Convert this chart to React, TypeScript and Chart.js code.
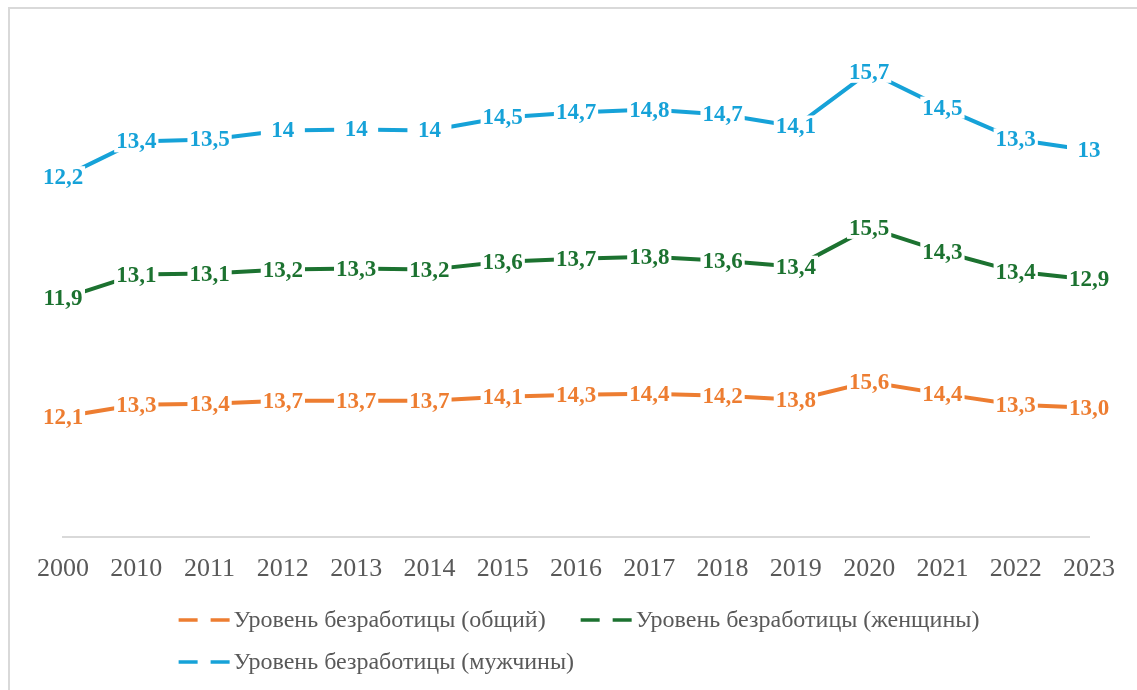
import React, { useEffect, useRef } from "react";
import { Chart, registerables } from "chart.js";

Chart.register(...registerables);

const categories = ["2000", "2010", "2011", "2012", "2013", "2014", "2015", "2016", "2017", "2018", "2019", "2020", "2021", "2022", "2023"];
const totalValues = [12.1, 13.3, 13.4, 13.7, 13.7, 13.7, 14.1, 14.3, 14.4, 14.2, 13.8, 15.6, 14.4, 13.3, 13.0];
const womenValues = [11.9, 13.1, 13.1, 13.2, 13.3, 13.2, 13.6, 13.7, 13.8, 13.6, 13.4, 15.5, 14.3, 13.4, 12.9];
const menValues = [12.2, 13.4, 13.5, 14, 14, 14, 14.5, 14.7, 14.8, 14.7, 14.1, 15.7, 14.5, 13.3, 13];
const seriesNames = ["Уровень безработицы (общий)", "Уровень безработицы (женщины)", "Уровень безработицы (мужчины)"];
const seriesColors = ["#ED7D31", "#1C7230", "#16A2D8"];
const seriesFixedDecimals = [true, false, false];
const yMin = 0;
const yMax = 50;

const SERIF = '"Liberation Serif", "Times New Roman", serif';
const CANVAS_W = 1127;
const CANVAS_H = 681;

function formatValue(v: number, fixed: boolean): string {
  const s = fixed ? v.toFixed(1) : String(v);
  return s.replace(".", ",");
}

const labelPlugin = {
  id: "pointValueLabels",
  afterDatasetsDraw(chart: any) {
    const ctx = chart.ctx as CanvasRenderingContext2D;
    ctx.save();
    ctx.font = `bold 23px ${SERIF}`;
    ctx.textAlign = "center";
    ctx.textBaseline = "middle";
    chart.data.datasets.forEach((ds: any, i: number) => {
      const meta = chart.getDatasetMeta(i);
      meta.data.forEach((pt: any, j: number) => {
        const v = ds.data[j] as number;
        const txt = formatValue(v, seriesFixedDecimals[i]);
        const w = Math.max(ctx.measureText(txt).width, 40) + 4;
        ctx.fillStyle = "#ffffff";
        ctx.fillRect(pt.x - w / 2, pt.y - 11, w, 22);
        ctx.fillStyle = ds.borderColor;
        ctx.fillText(txt, pt.x, pt.y + 1);
      });
    });
    ctx.restore();
  },
};

const legendPlugin = {
  id: "excelLegend",
  afterDraw(chart: any) {
    const ctx = chart.ctx as CanvasRenderingContext2D;
    const area = chart.chartArea;
    ctx.save();
    ctx.font = `24px ${SERIF}`;
    ctx.textBaseline = "middle";
    ctx.textAlign = "left";
    const symW = 52;
    const symGap = 3;
    const itemGap = 35;
    const rowY = [611, 653];
    const w0 = ctx.measureText(seriesNames[0]).width;
    const w1 = ctx.measureText(seriesNames[1]).width;
    const rowWidth = symW + symGap + w0 + itemGap + symW + symGap + w1;
    const startX = (area.left + area.right) / 2 - rowWidth / 2 + 3;
    const items = [
      { idx: 0, x: startX, y: rowY[0] },
      { idx: 1, x: startX + symW + symGap + w0 + itemGap, y: rowY[0] },
      { idx: 2, x: startX, y: rowY[1] },
    ];
    items.forEach((it) => {
      ctx.strokeStyle = seriesColors[it.idx];
      ctx.lineWidth = 3.5;
      ctx.lineCap = "butt";
      ctx.setLineDash([19, 13]);
      ctx.beginPath();
      ctx.moveTo(it.x, it.y);
      ctx.lineTo(it.x + symW, it.y);
      ctx.stroke();
      ctx.setLineDash([]);
      ctx.fillStyle = "#595959";
      ctx.fillText(seriesNames[it.idx], it.x + symW + symGap, it.y + 1);
    });
    ctx.restore();
  },
};

export default function App() {
  const canvasRef = useRef<HTMLCanvasElement | null>(null);

  useEffect(() => {
    if (!canvasRef.current) return;
    const seriesValues = [totalValues, womenValues, menValues];
    const chart = new Chart(canvasRef.current, {
      type: "line",
      data: {
        labels: categories,
        datasets: seriesValues.map((vals, i) => ({
          label: seriesNames[i],
          data: vals,
          borderColor: seriesColors[i],
          backgroundColor: seriesColors[i],
          borderWidth: 4,
          pointRadius: 0,
          pointHoverRadius: 0,
          tension: 0,
          fill: false,
          borderJoinStyle: "round" as const,
        })),
      },
      options: {
        responsive: false,
        animation: false,
        events: [],
        layout: { padding: { left: 53, right: 48, top: 31, bottom: 103 } },
        plugins: {
          legend: { display: false },
          tooltip: { enabled: false },
          title: { display: false },
        },
        scales: {
          x: {
            offset: false,
            grid: { display: false },
            border: { display: true, color: "#d9d9d9", width: 2 },
            ticks: {
              color: "#595959",
              font: { family: SERIF, size: 26 },
              padding: 9,
              maxRotation: 0,
              autoSkip: false,
            },
            afterFit: (scale: any) => {
              scale.height = 50;
            },
          },
          y: {
            display: false,
            stacked: true,
            min: yMin,
            max: yMax,
          },
        },
      },
      plugins: [labelPlugin, legendPlugin],
    });
    return () => chart.destroy();
  }, []);

  return (
    <div
      style={{
        position: "fixed",
        left: 8,
        top: 7,
        width: 1140,
        height: 700,
        borderTop: "2px solid #d9d9d9",
        borderLeft: "2px solid #d9d9d9",
        background: "#ffffff",
      }}
    >
      <canvas
        ref={canvasRef}
        width={CANVAS_W}
        height={CANVAS_H}
        style={{ display: "block", width: CANVAS_W, height: CANVAS_H }}
      />
    </div>
  );
}
